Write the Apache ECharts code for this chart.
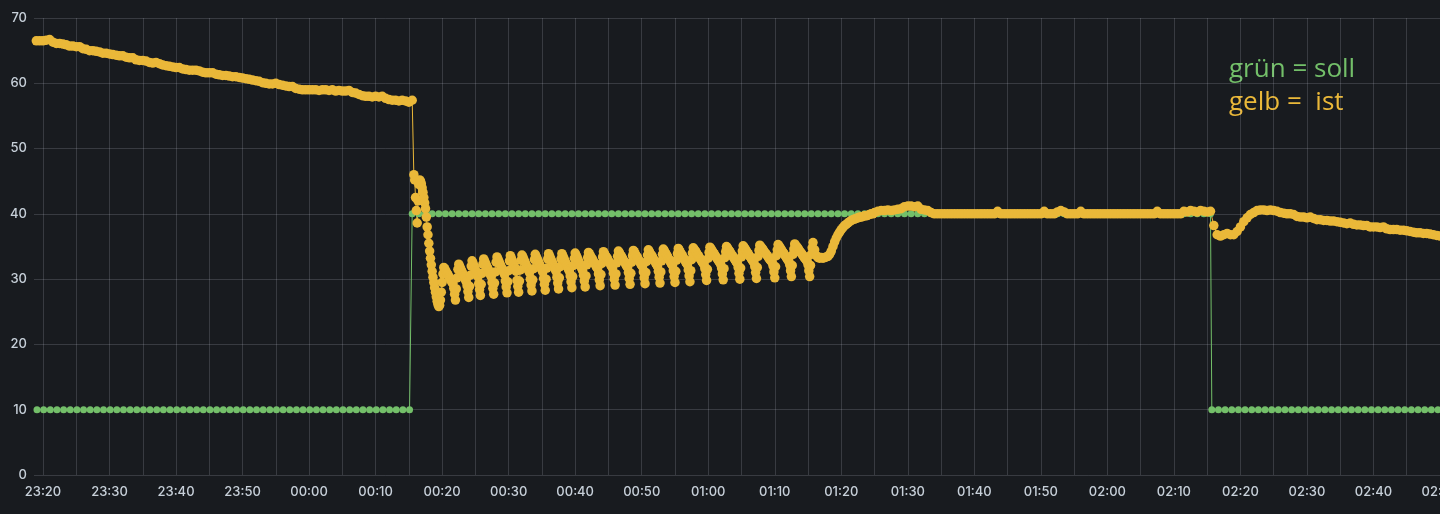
<!DOCTYPE html>
<html>
<head>
<meta charset="utf-8">
<script src="https://cdn.jsdelivr.net/npm/echarts@6/dist/echarts.min.js"></script>
<style>
html,body{margin:0;padding:0;background:#181b1f;}
#chart{width:1440px;height:514px;}
</style>
</head>
<body>
<div id="chart"></div>
<script>
// Time is expressed in minutes after 23:20.
const axisStartMin = -1.35;
const axisEndMin = 210;

// ---- soll (green) ----
const soll1Start = -0.9, soll1Step = 1;
const soll1 = [
10,10,10,10,10,10,10,10,10,10,
10,10,10,10,10,10,10,10,10,10,
10,10,10,10,10,10,10,10,10,10,
10,10,10,10,10,10,10,10,10,10,
10,10,10,10,10,10,10,10,10,10,
10,10,10,10,10,10,10
];
const soll2Start = 55.5, soll2Step = 1;
const soll2 = [
40,40,40,40,40,40,40,40,40,40,
40,40,40,40,40,40,40,40,40,40,
40,40,40,40,40,40,40,40,40,40,
40,40,40,40,40,40,40,40,40,40,
40,40,40,40,40,40,40,40,40,40,
40,40,40,40,40,40,40,40,40,40,
40,40,40,40,40,40,40,40,40,40,
40,40,40,40,40,40,40,40,40,40,
40,40,40,40,40,40,40,40,40,40,
40,40,40,40,40,40,40,40,40,40,
40,40,40,40,40,40,40,40,40,40,
40,40,40,40,40,40,40,40,40,40,
40
];
const soll3Start = 175.7, soll3Step = 1;
const soll3 = [
10,10,10,10,10,10,10,10,10,10,
10,10,10,10,10,10,10,10,10,10,
10,10,10,10,10,10,10,10,10,10,
10,10,10,10,10
];

// ---- ist (yellow) ----
const istAStart = -1.0, istAStep = 0.5;
const istA = [
66.5,66.5,66.5,66.6,66.7,66.3,66.1,66.1,66.0,65.9,
65.7,65.7,65.6,65.6,65.3,65.2,65.0,65.0,64.9,64.8,
64.6,64.6,64.5,64.4,64.3,64.2,64.2,64.0,63.9,63.9,
63.6,63.5,63.5,63.4,63.2,63.1,63.2,63.0,62.8,62.7,
62.6,62.5,62.4,62.4,62.2,62.1,62.0,62.0,62.0,61.9,
61.7,61.6,61.6,61.6,61.4,61.3,61.2,61.2,61.1,61.0,
61.0,60.9,60.8,60.7,60.6,60.5,60.4,60.3,60.1,60.0,
59.9,59.9,60.0,59.8,59.7,59.6,59.5,59.5,59.2,59.1,
59.0,59.0,59.0,59.0,59.0,58.9,59.0,59.0,58.9,59.0,
58.8,58.9,58.8,58.8,58.9,58.6,58.5,58.3,58.1,58.0,
58.0,57.9,58.0,57.9,58.0,57.7,57.5,57.4,57.4,57.3,
57.4,57.3,57.1,57.4
];
// drop and oscillation, sampled finely
const istBStart = 55.75, istBStep = 0.125;
const istB = [
46.0,45.2,42.5,40.5,38.6,42.0,44.5,45.2,45.0,44.6,44.0,43.3,42.5,41.7,40.8,39.5,38.0,36.8,
35.5,34.3,33.2,32.2,31.2,30.3,29.5,28.7,28.0,27.3,26.6,26.1,25.8,26.0,26.8,28.0,29.5,30.8,
31.8,31.6,31.3,31.1,30.9,30.7,30.4,30.2,30.0,29.7,29.5,29.3,28.6,27.7,26.8,28.5,30.2,31.5,
32.3,32.0,31.7,31.4,31.1,30.8,30.5,30.2,29.9,29.6,29.0,28.1,27.2,28.9,30.6,32.0,
32.8,32.5,32.1,31.8,31.4,31.1,30.7,30.4,29.3,28.4,27.5,29.2,30.9,32.3,
33.1,32.8,32.5,32.2,31.9,31.6,31.3,31.0,30.7,30.4,29.5,28.6,27.7,29.4,31.1,32.6,
33.4,33.1,32.8,32.5,32.2,31.9,31.6,31.3,31.0,30.7,29.7,28.8,27.9,29.6,31.3,32.8,
33.6,33.3,32.9,32.6,32.2,31.9,31.5,31.2,29.8,28.9,28.0,29.7,31.4,32.9,
33.7,33.4,33.1,32.8,32.5,32.2,31.9,31.6,31.3,31.0,30.0,29.1,28.2,29.9,31.6,33.0,
33.8,33.5,33.2,32.9,32.6,32.3,32.0,31.7,31.4,31.1,30.1,29.2,28.3,30.0,31.7,33.1,
33.9,33.6,33.3,33.0,32.7,32.4,32.1,31.8,31.5,31.2,30.3,29.4,28.5,30.2,31.9,33.1,
33.9,33.6,33.3,33.0,32.7,32.4,32.1,31.8,31.5,31.2,30.5,29.6,28.7,30.4,32.1,33.2,
34.0,33.7,33.4,33.1,32.8,32.5,32.2,31.9,31.6,31.3,30.6,29.7,28.8,30.5,32.2,33.3,
34.1,33.9,33.6,33.4,33.2,33.0,32.7,32.5,32.3,32.0,31.8,31.6,30.8,29.9,29.0,30.7,32.4,33.4,
34.2,34.0,33.7,33.5,33.3,33.1,32.8,32.6,32.4,32.1,31.9,31.7,30.9,30.0,29.1,30.8,32.5,33.5,
34.3,34.1,33.8,33.6,33.4,33.2,32.9,32.7,32.5,32.2,32.0,31.8,31.0,30.1,29.2,30.9,32.6,33.6,
34.4,34.2,33.9,33.7,33.5,33.3,33.0,32.8,32.6,32.3,32.1,31.9,31.1,30.2,29.3,31.0,32.7,33.7,
34.5,34.3,34.0,33.8,33.6,33.4,33.1,32.9,32.7,32.4,32.2,32.0,31.2,30.3,29.4,31.1,32.8,33.8,
34.6,34.4,34.1,33.9,33.7,33.5,33.2,33.0,32.8,32.5,32.3,32.1,31.3,30.4,29.5,31.2,32.9,33.9,
34.7,34.5,34.2,34.0,33.8,33.6,33.3,33.1,32.9,32.6,32.4,32.2,31.4,30.5,29.6,31.3,33.0,34.0,
34.8,34.6,34.4,34.2,34.0,33.8,33.6,33.4,33.2,33.0,32.8,32.6,32.4,32.2,31.6,30.7,29.8,31.5,33.2,34.1,
34.9,34.7,34.5,34.3,34.1,33.9,33.7,33.5,33.3,33.1,32.9,32.7,32.5,32.3,31.7,30.8,29.9,31.6,33.3,34.2,
35.0,34.8,34.6,34.4,34.2,34.0,33.8,33.6,33.4,33.2,33.0,32.8,32.6,32.4,31.8,30.9,30.0,31.7,33.4,34.3,
35.1,34.9,34.7,34.5,34.3,34.1,33.9,33.7,33.5,33.3,33.1,32.9,32.7,32.5,31.9,31.0,30.1,31.8,33.5,34.4,
35.2,35.0,34.8,34.7,34.5,34.3,34.1,33.9,33.8,33.6,33.4,33.2,33.0,32.9,32.7,32.5,32.0,31.1,30.2,31.9,33.6,34.5,
35.3,35.1,34.9,34.7,34.5,34.3,34.1,33.9,33.7,33.5,33.3,33.1,32.9,32.7,32.2,31.3,30.4,32.1,33.8,34.6,
35.4,35.2,35.0,34.9,34.7,34.5,34.3,34.1,34.0,33.8,33.6,33.4,33.2,33.1,32.9,32.7,32.2,31.3,30.4,32.1,33.8,34.8
];
// last peak, plateau and rise to setpoint
const istB2Start = 115.75, istB2Step = 0.25;
const istB2 = [
35.6,
34.5,33.6,33.3,33.2,33.3,33.2,33.3,33.4,33.5,33.8,
34.3,35.0,35.7,36.3,36.8,37.2,37.6,37.9,38.2,38.4,
38.6,38.8,39.0,39.1,39.2,39.3,39.4,39.5,39.5,39.6,
39.7,39.7,39.8,39.9,40.0,40.0
];
const istCStart = 125.0, istCStep = 0.5;
const istC = [
40.2,40.4,40.5,40.5,40.6,40.5,40.6,40.7,40.8,41.1,
41.2,41.2,41.1,41.2,40.7,40.6,40.5,40.2,
40,40,40,40,40,40,40,40,40,40,
40,40,40,40,40,40,40,40,40,40.4,
40,40,40,40,40,40,40,40,40,40,
40,40,40,40.4,40,40,40,40.3,40.5,40.3,
40,40,40,40,40.4,40,40,40,40,40,
40,40,40,40,40,40,40,40,40,40,
40,40,40,40,40,40,40,40.4,40,40,
40,40,40,40,40,40.4,40.3,40.5,40.4,40.3,
40.5,40.4,40.3,40.4,
38.2,36.8,36.6,36.8,37.0,36.8,36.8,37.3,38.0,38.8,
39.4,39.9,40.2,40.5,40.6,40.6,40.5,40.6,40.5,40.4,
40.2,40.1,40.0,40.0,39.9,39.6,39.5,39.5,39.4,39.5,
39.3,39.1,39.1,39.0,39.0,38.9,38.9,38.8,38.7,38.6,
38.5,38.6,38.4,38.3,38.3,38.2,38.2,38.0,38.0,38.0,
37.9,38.0,37.7,37.6,37.6,37.6,37.5,37.5,37.4,37.3,
37.2,37.1,37.1,37.0,37.0,36.9,36.8,36.7,36.6
];

const BASE = Date.UTC(2021, 0, 1, 23, 20, 0);
function toTs(min) { return BASE + Math.round(min * 60000); }
function seg(start, step, values) {
  return values.map(function (v, i) { return [toTs(start + i * step), v]; });
}
const sollData = seg(soll1Start, soll1Step, soll1)
  .concat(seg(soll2Start, soll2Step, soll2))
  .concat(seg(soll3Start, soll3Step, soll3));
const istData = seg(istAStart, istAStep, istA)
  .concat(seg(istBStart, istBStep, istB))
  .concat(seg(istB2Start, istB2Step, istB2))
  .concat(seg(istCStart, istCStep, istC));

function pad(n) { return (n < 10 ? '0' : '') + n; }

const textColor = '#c7d0d9';
const gridColor = 'rgba(204,204,220,0.18)';

const chart = echarts.init(document.getElementById('chart'), null, { renderer: 'canvas' });
chart.setOption({
  backgroundColor: '#181b1f',
  animation: false,
  useUTC: true,
  grid: { left: 34, right: 0, top: 18, bottom: 39, containLabel: false, outerBoundsMode: 'none' },
  xAxis: {
    type: 'time',
    min: toTs(axisStartMin),
    max: toTs(axisEndMin),
    minInterval: 600000,
    maxInterval: 600000,
    splitNumber: 21,
    axisLine: { show: false },
    axisTick: { show: false },
    axisLabel: {
      color: textColor, fontFamily: 'Inter', fontSize: 13, fontWeight: 500, margin: 11,
      showMinLabel: false,
      formatter: function (val) {
        if (val % 600000 !== 0) return '';
        const d = new Date(val);
        return pad(d.getUTCHours()) + ':' + pad(d.getUTCMinutes());
      }
    },
    splitLine: { show: true, showMinLine: false, showMaxLine: false, lineStyle: { color: gridColor, width: 1 } }
  },
  yAxis: {
    type: 'value', min: 0, max: 70, interval: 10,
    axisLine: { show: false },
    axisTick: { show: false },
    axisLabel: { color: textColor, fontFamily: 'Inter', fontSize: 13, fontWeight: 500, margin: 7 },
    splitLine: { show: true, lineStyle: { color: gridColor, width: 1 } }
  },
  graphic: [
    { type: 'text', left: 1229, top: 57, style: { text: 'grün = soll', fill: '#73bf69', font: '26px "Open Sans"' } },
    { type: 'text', left: 1229, top: 90, style: { text: 'gelb =  ist', fill: '#eab839', font: '26px "Open Sans"' } }
  ],
  series: [
    {
      name: 'soll', type: 'line', data: sollData,
      symbol: 'circle', symbolSize: 7, showSymbol: true,
      lineStyle: { color: '#73bf69', width: 1 },
      itemStyle: { color: '#73bf69' },
      emphasis: { disabled: true }, silent: true
    },
    {
      name: 'ist', type: 'line', data: istData,
      symbol: 'circle', symbolSize: 9.5, showSymbol: true,
      lineStyle: { color: '#eab839', width: 1 },
      itemStyle: { color: '#eab839' },
      emphasis: { disabled: true }, silent: true
    }
  ]
});
</script>
</body>
</html>
